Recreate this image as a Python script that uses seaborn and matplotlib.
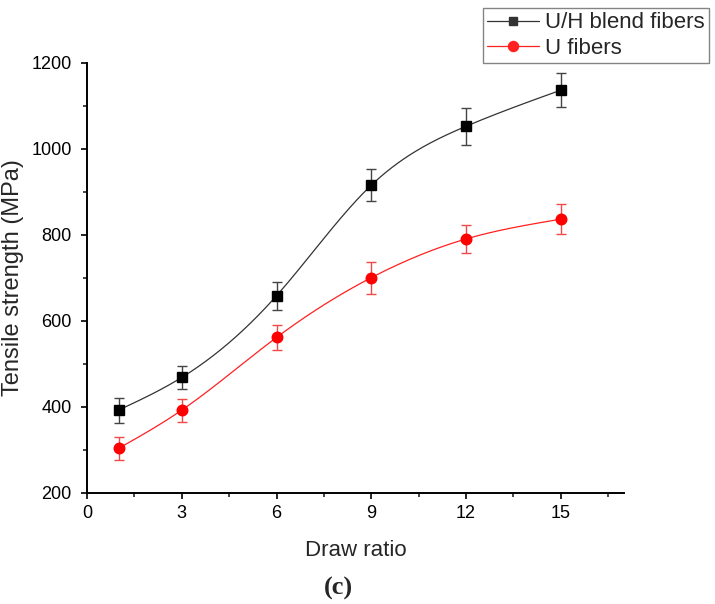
import numpy as np
import pandas as pd
import matplotlib
matplotlib.use("Agg")
import matplotlib.pyplot as plt
import seaborn as sns
from matplotlib.ticker import MultipleLocator

draw_ratio = [1, 3, 6, 9, 12, 15]
uh_strength = [392, 468, 658, 915, 1052, 1136]
uh_err = [29, 27, 33, 37, 43, 40]
u_strength = [303, 392, 561, 700, 790, 836]
u_err = [27, 27, 30, 37, 33, 35]
series_names = ["U/H blend fibers", "U fibers"]

sns.set_theme(style="ticks")
plt.rcParams["font.family"] = ["Liberation Sans", "DejaVu Sans"]


def natural_spline(x, y, n=300):
    x = np.asarray(x, float)
    y = np.asarray(y, float)
    k = len(x)
    h = np.diff(x)
    A = np.zeros((k, k))
    b = np.zeros(k)
    A[0, 0] = A[-1, -1] = 1
    for i in range(1, k - 1):
        A[i, i - 1] = h[i - 1]
        A[i, i] = 2 * (h[i - 1] + h[i])
        A[i, i + 1] = h[i]
        b[i] = 3 * ((y[i + 1] - y[i]) / h[i] - (y[i] - y[i - 1]) / h[i - 1])
    c = np.linalg.solve(A, b)
    xs = np.linspace(x[0], x[-1], n)
    ys = np.empty_like(xs)
    for j, xv in enumerate(xs):
        i = min(np.searchsorted(x, xv, side="right") - 1, k - 2)
        dx = xv - x[i]
        bi = (y[i + 1] - y[i]) / h[i] - h[i] * (2 * c[i] + c[i + 1]) / 3
        di = (c[i + 1] - c[i]) / (3 * h[i])
        ys[j] = y[i] + bi * dx + c[i] * dx ** 2 + di * dx ** 3
    return xs, ys


fig = plt.figure(figsize=(7.15, 6.04), dpi=100)
ax = fig.add_axes([0.1217, 0.1843, 0.751, 0.712])

styles = [
    dict(y=uh_strength, e=uh_err, color="black", lcolor="#333333", ecolor="#444444",
         marker="s", ms=6.8),
    dict(y=u_strength, e=u_err, color="red", lcolor="#ff2020", ecolor="#f04848",
         marker="o", ms=7.6),
]
handles = []
for name, st in zip(series_names, styles):
    xs, ys = natural_spline(draw_ratio, st["y"])
    sns.lineplot(x=xs, y=ys, ax=ax, color=st["lcolor"], lw=0.9, legend=False,
                 estimator=None, sort=False)
    ax.errorbar(draw_ratio, st["y"], yerr=st["e"], fmt="none", ecolor=st["ecolor"],
                elinewidth=1.0, capsize=3.3, capthick=1.0, zorder=3)
    ax.plot(draw_ratio, st["y"], linestyle="none", marker=st["marker"], ms=st["ms"],
            color=st["color"], zorder=4)
    h, = ax.plot([], [], color=st["lcolor"], lw=0.9, marker=st["marker"],
                 ms=st["ms"] * 0.95, label=name)
    handles.append(h)

ax.set_xlim(0, 17)
ax.set_ylim(200, 1200)
ax.xaxis.set_major_locator(MultipleLocator(3))
ax.xaxis.set_minor_locator(MultipleLocator(1.5))
ax.yaxis.set_major_locator(MultipleLocator(200))
ax.yaxis.set_minor_locator(MultipleLocator(100))
ax.tick_params(which="major", direction="out", length=4, width=1.2, labelsize=13,
               colors="black")
ax.tick_params(axis="x", which="major", pad=5)
ax.tick_params(axis="y", which="major", pad=7)
ax.tick_params(which="minor", direction="out", length=3, width=1.2)
for s in ["top", "right"]:
    ax.spines[s].set_visible(False)
for s in ["left", "bottom"]:
    ax.spines[s].set_linewidth(1.4)
    ax.spines[s].set_color("black")

ax.set_xlabel("Draw ratio", fontsize=16, labelpad=13)
ax.set_ylabel("Tensile strength (MPa)", fontsize=17, labelpad=5)

leg = fig.legend(handles=handles, loc="upper left", bbox_to_anchor=(0.6755, 0.9868),
                 fontsize=16, frameon=True, fancybox=False, edgecolor="#666666",
                 handlelength=2.3, handletextpad=0.3, borderpad=0.2,
                 labelspacing=0.2, borderaxespad=0)
leg.get_frame().set_linewidth(1.0)

fig.text(0.474, 0.026, "(c)", ha="center", va="center", fontsize=19,
         fontweight="bold", family=["Liberation Serif", "DejaVu Serif"])

fig.savefig("out.png", dpi=100)
